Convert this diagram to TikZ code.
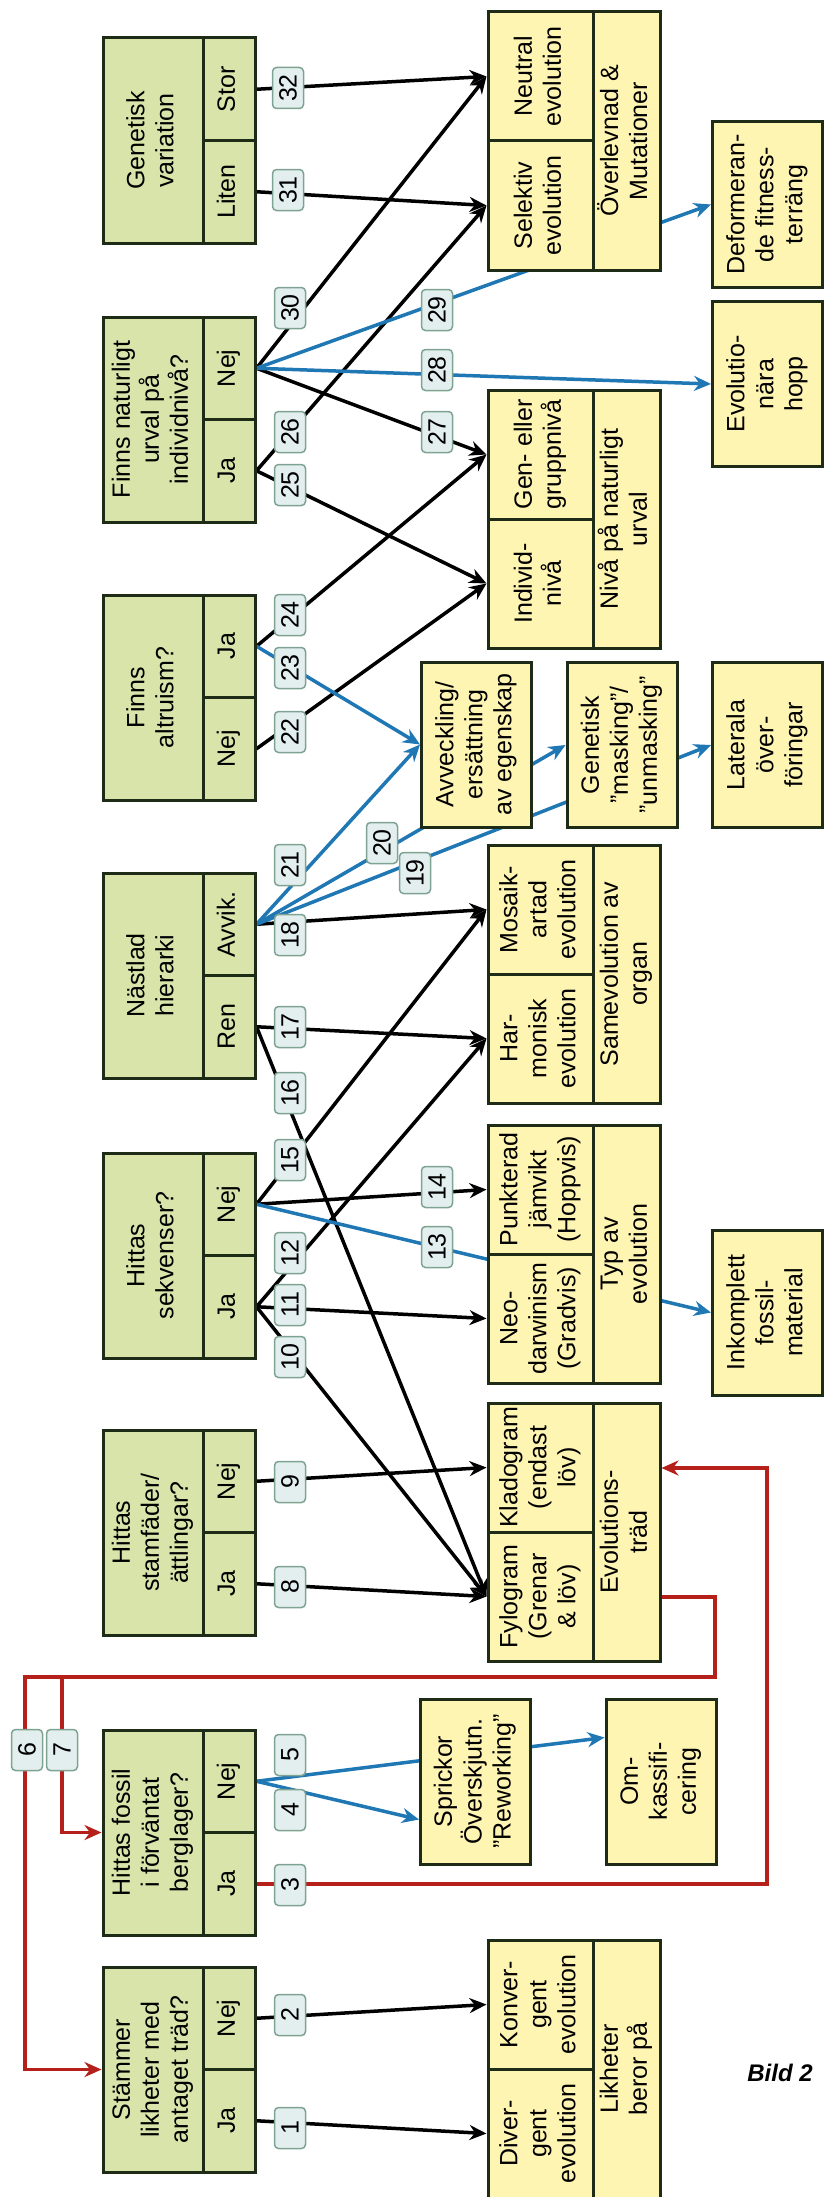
\documentclass[tikz,border=0pt]{standalone}
\usepackage{fontspec}
\setmainfont{Liberation Sans}
\usepackage{graphicx}
\usetikzlibrary{arrows.meta}
\definecolor{qgreen}{HTML}{D8E4AA}
\definecolor{ayellow}{HTML}{FFF5B3}
\definecolor{boxline}{HTML}{1E2B16}
\definecolor{nrfill}{HTML}{E3EEEE}
\definecolor{nrline}{HTML}{7FA393}
\definecolor{bluearrow}{HTML}{1F77B4}
\definecolor{redarrow}{HTML}{B5201A}
\pgfdeclarelayer{bg}
\pgfsetlayers{bg,main}
\newcommand{\arrowwidth}{3.5pt}
\newcommand{\vtext}[1]{\rotatebox{90}{\begin{tabular}{@{}c@{}}#1\end{tabular}}}
% question box: name, top, question, upper answer, lower answer
\newcommand{\questionbox}[5]{
	\node[qcell, minimum width=100pt, minimum height=205pt] (#1) at (153, #2+102.5) {\vtext{#3}};
	\node[qcell, minimum width=52pt, minimum height=102.5pt] (#1t) at (229, #2+51.25) {\vtext{#4}};
	\node[qcell, minimum width=52pt, minimum height=102.5pt] (#1b) at (229, #2+153.75) {\vtext{#5}};
}
% answer box: name, top, upper, lower, heading
\newcommand{\answerbox}[5]{
	\node[acell, minimum width=105pt, minimum height=129pt] (#1t) at (540.5, #2+64.5) {\vtext{#3}};
	\node[acell, minimum width=105pt, minimum height=129pt] (#1b) at (540.5, #2+193.5) {\vtext{#4}};
	\node[acell, minimum width=67pt, minimum height=258pt] (#1) at (626.5, #2+129) {\vtext{#5}};
}
\tikzset{
	cell/.style={draw=boxline, line width=3pt, inner sep=0pt, font=\fontsize{25}{29}\selectfont},
	qcell/.style={cell, fill=qgreen},
	acell/.style={cell, fill=ayellow},
	sidebox/.style={acell, minimum width=110pt, minimum height=165pt},
	nr/.style={draw=nrline, fill=nrfill, line width=1.5pt, rounded corners=4pt,
		minimum width=31pt, minimum height=41pt, inner sep=0pt, font=\fontsize{25}{25}\selectfont},
	blk/.style={line width=\arrowwidth, -{Stealth[length=17pt, width=15pt]}},
	blu/.style={blk, bluearrow},
	rd/.style={blk, redarrow},
}
\begin{document}
\begin{tikzpicture}[x=1pt, y=-1pt]
	\useasboundingbox (0,0) rectangle (823,2197);

	\questionbox{Q8}{38}{Genetisk\\variation}{Stor}{Liten}
	\questionbox{Q7}{317}{Finns naturligt\\urval på\\individnivå?}{Nej}{Ja}
	\questionbox{Q6}{595}{Finns\\altruism?}{Ja}{Nej}
	\questionbox{Q5}{873}{Nästlad\\hierarki}{Avvik.}{Ren}
	\questionbox{Q4}{1153}{Hittas\\sekvenser?}{Nej}{Ja}
	\questionbox{Q3}{1430}{Hittas\\stamfäder/\\ättlingar?}{Nej}{Ja}
	\questionbox{Q2}{1730}{Hittas fossil\\i förväntat\\berglager?}{Nej}{Ja}
	\questionbox{Q1}{1967}{Stämmer\\likheter med\\antaget träd?}{Nej}{Ja}

	\answerbox{A1}{12}{Neutral\\evolution}{Selektiv\\evolution}{Överlevnad \&\\Mutationer}
	\answerbox{A2}{390}{Gen- eller\\gruppnivå}{Individ-\\nivå}{Nivå på naturligt\\urval}
	\answerbox{A3}{845}{Mosaik-\\artad\\evolution}{Har-\\monisk\\evolution}{Samevolution av\\organ}
	\answerbox{A4}{1125}{Punkterad\\jämvikt\\(Hoppvis)}{Neo-\\darwinism\\(Gradvis)}{Typ av\\evolution}
	\answerbox{A5}{1403}{Kladogram\\(endast\\löv)}{Fylogram\\(Grenar\\\& löv)}{Evolutions-\\träd}
	\answerbox{A6}{1940}{Konver-\\gent\\evolution}{Diver-\\gent\\evolution}{Likheter\\beror på}

	\node[sidebox] (def) at (767.5, 204.5) {\vtext{Deformeran-\\de fitness-\\terräng}};
	\node[sidebox] (hopp) at (767.5, 384) {\vtext{Evolutio-\\nära\\hopp}};
	\node[sidebox] (avv) at (476.5, 744.5) {\vtext{Avveckling/\\ersättning\\av egenskap}};
	\node[sidebox] (mask) at (622, 745) {\vtext{Genetisk\\"masking"/\\"unmasking"}};
	\node[sidebox] (lat) at (767.5, 745) {\vtext{Laterala\\över-\\föringar}};
	\node[sidebox] (ink) at (767.5, 1312.5) {\vtext{Inkomplett\\fossil-\\material}};
	\node[sidebox] (spr) at (475.5, 1781.5) {\vtext{Sprickor\\Överskjutn.\\"Reworking"}};
	\node[sidebox] (omk) at (661, 1781.5) {\vtext{Om-\\kassifi-\\cering}};

	\coordinate (r3) at (767, 1468);
	\coordinate (r6) at (715, 1597);
	\coordinate (r6b) at (715, 1677);
	\coordinate (b6) at (25, 1677);
	\coordinate (b7) at (62, 1677);

	\begin{pgfonlayer}{bg}
		\draw[blk] (Q8t.east) -- (A1t.west);
		\draw[blk] (Q8b.east) -- (A1b.west);
		\draw[blk] (Q7t.east) -- (A1t.west);
		\draw[blk] (Q7b.east) -- (A1b.west);
		\draw[blk] (Q7t.east) -- (A2t.west);
		\draw[blk] (Q7b.east) -- (A2b.west);
		\draw[blk] (Q6t.east) -- (A2t.west);
		\draw[blk] (Q6b.east) -- (A2b.west);
		\draw[blk] (Q5t.east) -- (A3t.west);
		\draw[blk] (Q5b.east) -- (A3b.west);
		\draw[blk] (Q5b.east) -- (A5b.west);
		\draw[blk] (Q4t.east) -- (A3t.west);
		\draw[blk] (Q4t.east) -- (A4t.west);
		\draw[blk] (Q4b.east) -- (A3b.west);
		\draw[blk] (Q4b.east) -- (A4b.west);
		\draw[blk] (Q4b.east) -- (A5b.west);
		\draw[blk] (Q3t.east) -- (A5t.west);
		\draw[blk] (Q3b.east) -- (A5b.west);
		\draw[blk] (Q1t.east) -- (A6t.west);
		\draw[blk] (Q1b.east) -- (A6b.west);

		\draw[blu] (Q7t.east) -- (hopp.west);
		\draw[blu] (Q7t.east) -- (def.west);
		\draw[blu] (Q6t.east) -- (avv.west);
		\draw[blu] (Q5t.east) -- (avv.west);
		\draw[blu] (Q5t.east) -- (mask.west);
		\draw[blu] (Q5t.east) -- (lat.west);
		\draw[blu] (Q4t.east) -- (ink.west);
		\draw[blu] (Q2t.east) -- ([yshift=-38pt]spr.west);
		\draw[blu] (Q2t.east) -- ([yshift=44pt]omk.west);

		\draw[rd] (Q2b.east) -| (r3) -- (A5.east |- r3);
		\draw[rd] (A5.east |- r6) -| (r6b) -- (b6) |- (Q1.west);
		\draw[rd] (b7) |- (Q2.west);
	\end{pgfonlayer}

	\node[nr] (n1) at (290, 2128) {\rotatebox{90}{1}};
	\node[nr] (n2) at (290, 2015) {\rotatebox{90}{2}};
	\node[nr] (n3) at (290, 1885) {\rotatebox{90}{3}};
	\node[nr] (n4) at (290, 1810) {\rotatebox{90}{4}};
	\node[nr] (n5) at (290, 1755) {\rotatebox{90}{5}};
	\node[nr] (n6) at (27, 1750) {\rotatebox{90}{6}};
	\node[nr] (n7) at (62, 1750) {\rotatebox{90}{7}};
	\node[nr] (n8) at (290, 1587) {\rotatebox{90}{8}};
	\node[nr] (n9) at (290, 1482) {\rotatebox{90}{9}};
	\node[nr] (n10) at (290, 1357) {\rotatebox{90}{10}};
	\node[nr] (n11) at (290, 1305) {\rotatebox{90}{11}};
	\node[nr] (n12) at (290, 1253) {\rotatebox{90}{12}};
	\node[nr] (n13) at (437, 1247) {\rotatebox{90}{13}};
	\node[nr] (n14) at (437, 1187) {\rotatebox{90}{14}};
	\node[nr] (n15) at (290, 1160) {\rotatebox{90}{15}};
	\node[nr] (n16) at (290, 1093) {\rotatebox{90}{16}};
	\node[nr] (n17) at (290, 1027) {\rotatebox{90}{17}};
	\node[nr] (n18) at (290, 935) {\rotatebox{90}{18}};
	\node[nr] (n19) at (415, 873) {\rotatebox{90}{19}};
	\node[nr] (n20) at (382, 843) {\rotatebox{90}{20}};
	\node[nr] (n21) at (290, 865) {\rotatebox{90}{21}};
	\node[nr] (n22) at (290, 732) {\rotatebox{90}{22}};
	\node[nr] (n23) at (290, 668) {\rotatebox{90}{23}};
	\node[nr] (n24) at (290, 615) {\rotatebox{90}{24}};
	\node[nr] (n25) at (290, 485) {\rotatebox{90}{25}};
	\node[nr] (n26) at (290, 432) {\rotatebox{90}{26}};
	\node[nr] (n27) at (437, 432) {\rotatebox{90}{27}};
	\node[nr] (n28) at (437, 370) {\rotatebox{90}{28}};
	\node[nr] (n29) at (437, 310) {\rotatebox{90}{29}};
	\node[nr] (n30) at (290, 308) {\rotatebox{90}{30}};
	\node[nr] (n31) at (288, 190) {\rotatebox{90}{31}};
	\node[nr] (n32) at (288, 88) {\rotatebox{90}{32}};

	\node[font=\fontsize{24}{24}\selectfont\bfseries\itshape] (bild) at (780, 2073) {Bild 2};
\end{tikzpicture}
\end{document}
